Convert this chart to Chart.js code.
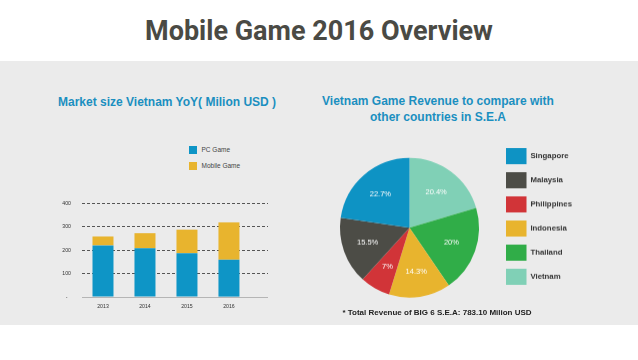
<!DOCTYPE html>
<html>
<head>
<meta charset="utf-8">
<script src="https://cdn.jsdelivr.net/npm/chart.js@4.4.1/dist/chart.umd.min.js"></script>
<style>
  html, body { margin: 0; padding: 0; background: #fff; }
  body { width: 638px; height: 360px; position: relative; overflow: hidden; font-family: "Liberation Sans", Arial, sans-serif; }
  .abs { position: absolute; white-space: nowrap; }
  #band { left: 0; top: 61px; width: 638px; height: 264px; background: #ebebeb; }
  #title { left: 0; width: 638px; top: 17.8px; text-align: center; font: bold 27px/27px Roboto, sans-serif; color: #4a4a44; }
  .sub { font-weight: bold; font-size: 12px; line-height: 12px; color: #1b8fc0; }
  #barTitle { left: 58px; top: 95.8px; }
  #pieTitle { left: 318px; width: 240px; text-align: center; line-height: 15.7px; top: 94px; }
  #barLegend { left: 189px; top: 146px; font-size: 6.5px; color: #444; }
  #barLegend div { height: 8px; line-height: 8px; margin-bottom: 8px; }
  #barLegend span { display: inline-block; width: 8px; height: 8px; vertical-align: top; margin-right: 4.5px; }
  #note { left: 300px; width: 274px; top: 309px; text-align: center; font-weight: bold; font-size: 8px; line-height: 8px; color: #222; }
  #barBox { left: 50px; top: 188.6px; width: 218px; height: 126.1px; }
  #pieBox { left: 321px; top: 140.3px; width: 261px; height: 174.4px; }
</style>
</head>
<body>
<div id="band" class="abs"></div>
<div id="title" class="abs">Mobile Game 2016 Overview</div>
<div id="barTitle" class="abs sub">Market size Vietnam YoY( Milion USD )</div>
<div id="pieTitle" class="abs sub">Vietnam Game Revenue to compare with<br>other countries in S.E.A</div>
<div id="barLegend" class="abs"></div>
<div id="barBox" class="abs"><canvas id="barChart"></canvas></div>
<div id="pieBox" class="abs"><canvas id="pieChart"></canvas></div>
<div id="note" class="abs">* Total Revenue of BIG 6 S.E.A: 783.10 Milion USD</div>
<script>
// bar chart data (Milion USD)
const years = [2013, 2014, 2015, 2016];
const pcGame = [220, 208, 187, 159];
const mobileGame = [38, 64, 100, 159];
const yTicks = [0, 100, 200, 300, 400];
const seriesNames = ['PC Game', 'Mobile Game'];
const seriesColors = ['#0e95c6', '#e8b42e'];

// pie data, legend order
const countries = ['Singapore', 'Malaysia', 'Philippines', 'Indonesia', 'Thailand', 'Vietnam'];
const shares = [22.7, 15.5, 7, 14.3, 20, 20.4];
const countryColors = ['#0e93c4', '#4c4c46', '#d13438', '#e8b42e', '#30ad48', '#80d0b6'];

const FONT = '"Liberation Sans", Arial, sans-serif';

// html legend for the bar chart
document.getElementById('barLegend').innerHTML = seriesNames.map((n, i) =>
    `<div><span style="background:${seriesColors[i]}"></span>${n}</div>`).join('');

new Chart(document.getElementById('barChart'), {
    type: 'bar',
    data: {
        labels: years,
        datasets: [
            { label: seriesNames[0], data: pcGame, backgroundColor: seriesColors[0] },
            { label: seriesNames[1], data: mobileGame, backgroundColor: seriesColors[1] }
        ]
    },
    options: {
        responsive: true,
        maintainAspectRatio: false,
        animation: false,
        layout: { padding: { top: 6 } },
        categoryPercentage: 1,
        barPercentage: 0.5,
        plugins: { legend: { display: false }, tooltip: { enabled: false } },
        scales: {
            x: {
                // linear so the axis can run past the last year like the original
                type: 'linear',
                stacked: true,
                offset: false,
                min: 2012.5,
                max: 2016.93,
                afterBuildTicks: s => { s.ticks = years.map(v => ({ value: v })); },
                afterFit: s => { s.height = 18; },
                grid: { display: false, drawTicks: false, offset: false },
                border: { display: true, color: '#b5b5b5', width: 1 },
                ticks: { padding: 6, color: '#333', font: { family: FONT, size: 5.2 }, callback: v => String(v) }
            },
            y: {
                stacked: true,
                min: 0,
                max: 400,
                afterBuildTicks: s => { s.ticks = yTicks.map(v => ({ value: v })); },
                afterFit: s => { s.width = 32; },
                grid: {
                    drawTicks: false,
                    color: c => c.tick && c.tick.value === 0 ? 'rgba(0,0,0,0)' : '#555',
                    lineWidth: 1
                },
                border: { display: false, dash: [3, 2] },
                ticks: {
                    padding: 11,
                    crossAlign: 'center',
                    color: '#333',
                    font: { family: FONT, size: 5.2 },
                    callback: v => v === 0 ? '-' : String(v)
                }
            }
        }
    }
});

// white percent labels inside slices
const sliceLabels = {
    id: 'sliceLabels',
    afterDatasetsDraw(chart) {
        const ctx = chart.ctx;
        const meta = chart.getDatasetMeta(0);
        const vals = chart.data.datasets[0].data;
        ctx.save();
        ctx.fillStyle = '#fff';
        ctx.font = `7.5px ${FONT}`;
        ctx.textAlign = 'center';
        ctx.textBaseline = 'middle';
        meta.data.forEach((arc, i) => {
            const p = arc.getProps(['x', 'y', 'startAngle', 'endAngle', 'outerRadius'], true);
            const mid = (p.startAngle + p.endAngle) / 2;
            const r = p.outerRadius * 0.64;
            ctx.fillText(vals[i] + '%', p.x + Math.cos(mid) * r, p.y + Math.sin(mid) * r);
        });
        ctx.restore();
    }
};

new Chart(document.getElementById('pieChart'), {
    type: 'pie',
    data: {
        // pie runs clockwise from Vietnam, legend lists Singapore first
        labels: countries.slice().reverse(),
        datasets: [{
            data: shares.slice().reverse(),
            backgroundColor: countryColors.slice().reverse(),
            borderWidth: 0,
            radius: 69.5
        }]
    },
    options: {
        responsive: true,
        maintainAspectRatio: false,
        animation: false,
        plugins: {
            tooltip: { enabled: false },
            legend: {
                position: 'right',
                align: 'start',
                reverse: true,
                labels: {
                    boxWidth: 20.5,
                    boxHeight: 16,
                    padding: 8,
                    color: '#333',
                    font: { family: FONT, size: 7.8, weight: 'bold' }
                }
            }
        }
    },
    plugins: [sliceLabels]
});
</script>
</body>
</html>
